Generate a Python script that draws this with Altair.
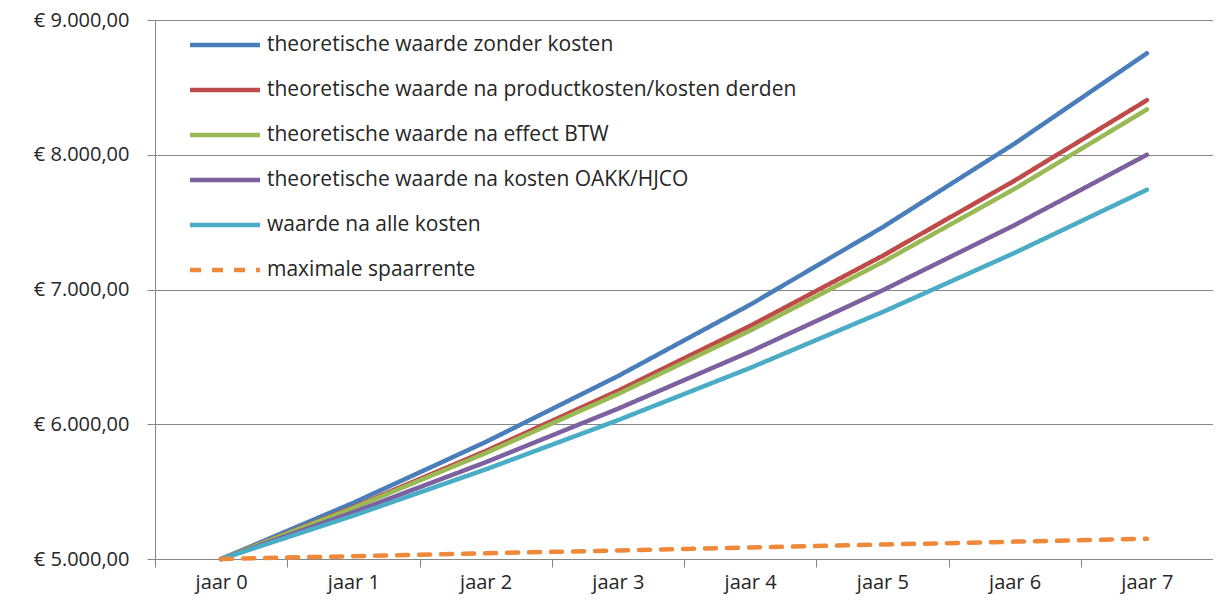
import altair as alt
import pandas as pd

jaren = ["jaar 0", "jaar 1", "jaar 2", "jaar 3", "jaar 4", "jaar 5", "jaar 6", "jaar 7"]

reeksen = [
    "theoretische waarde zonder kosten",
    "theoretische waarde na productkosten/kosten derden",
    "theoretische waarde na effect BTW",
    "theoretische waarde na kosten OAKK/HJCO",
    "waarde na alle kosten",
    "maximale spaarrente",
]

zonder_kosten = [5000, 5417, 5868, 6357, 6887, 7461, 8083, 8753]
na_productkosten = [5000, 5385, 5801, 6248, 6730, 7249, 7808, 8405]
na_btw = [5000, 5379, 5786, 6224, 6695, 7202, 7747, 8336]
na_oakk = [5000, 5347, 5718, 6115, 6539, 6993, 7478, 8000]
alle_kosten = [5000, 5322, 5665, 6030, 6418, 6832, 7272, 7740]
spaarrente = [5000, 5021, 5042, 5064, 5085, 5107, 5129, 5150]

kleuren = ["#4A7EBB", "#BE4B48", "#98B954", "#7D60A0", "#4BACC6", "#F0883A"]
strepen = [[1, 0], [1, 0], [1, 0], [1, 0], [1, 0], [11, 11]]

waarden = [zonder_kosten, na_productkosten, na_btw, na_oakk, alle_kosten, spaarrente]
rows = []
for naam, vals in zip(reeksen, waarden):
    for j, v in zip(jaren, vals):
        rows.append({"jaar": j, "waarde": v, "reeks": naam})
df = pd.DataFrame(rows)

FONT = "Open Sans"
legend = alt.Legend(
    title=None,
    orient="none",
    legendX=50,
    legendY=5,
    direction="vertical",
    symbolType="M-2,0H2",
    symbolSize=1225,
    symbolStrokeWidth=4.5,
    labelFont=FONT,
    labelFontSize=21,
    labelColor="#262626",
    labelLimit=800,
    labelOffset=22,
    rowPadding=15,
)

label_expr = "'€ ' + replace(replace(replace(format(datum.value, ',.2f'), ',', '#'), '.', ','), '#', '.')"

chart = alt.Chart(df).mark_line(strokeWidth=4.5, strokeCap="round", strokeJoin="round").encode(
    x=alt.X(
        "jaar:N",
        sort=jaren,
        bandPosition=0.5,
        scale=alt.Scale(type="band", paddingInner=0, paddingOuter=0),
        axis=alt.Axis(
            title=None,
            labelAngle=0,
            tickBand="extent",
            tickSize=8,
            tickColor="#868686",
            domainColor="#868686",
            labelFont=FONT,
            labelFontSize=20,
            labelColor="#262626",
            labelPadding=5,
            grid=False,
        ),
    ),
    y=alt.Y(
        "waarde:Q",
        scale=alt.Scale(domain=[5000, 9000], nice=False, zero=False),
        axis=alt.Axis(
            title=None,
            values=[5000, 6000, 7000, 8000, 9000],
            labelExpr=label_expr,
            grid=True,
            gridColor="#868686",
            domainColor="#868686",
            tickColor="#868686",
            tickSize=8,
            labelFont=FONT,
            labelFontSize=20,
            labelColor="#262626",
            labelPadding=18,
        ),
    ),
    color=alt.Color("reeks:N", scale=alt.Scale(domain=reeksen, range=kleuren), legend=legend),
    strokeDash=alt.StrokeDash("reeks:N", scale=alt.Scale(domain=reeksen, range=strepen), legend=legend),
    order=alt.Order("jaar:N"),
).properties(
    width=1058,
    height=539,
    autosize=alt.AutoSizeParams(type="none"),
    padding={"left": 147, "top": 12, "right": 0, "bottom": 40},
).configure_view(stroke=None)

chart.save("out.html", embed_options={"renderer": "svg", "actions": False})
